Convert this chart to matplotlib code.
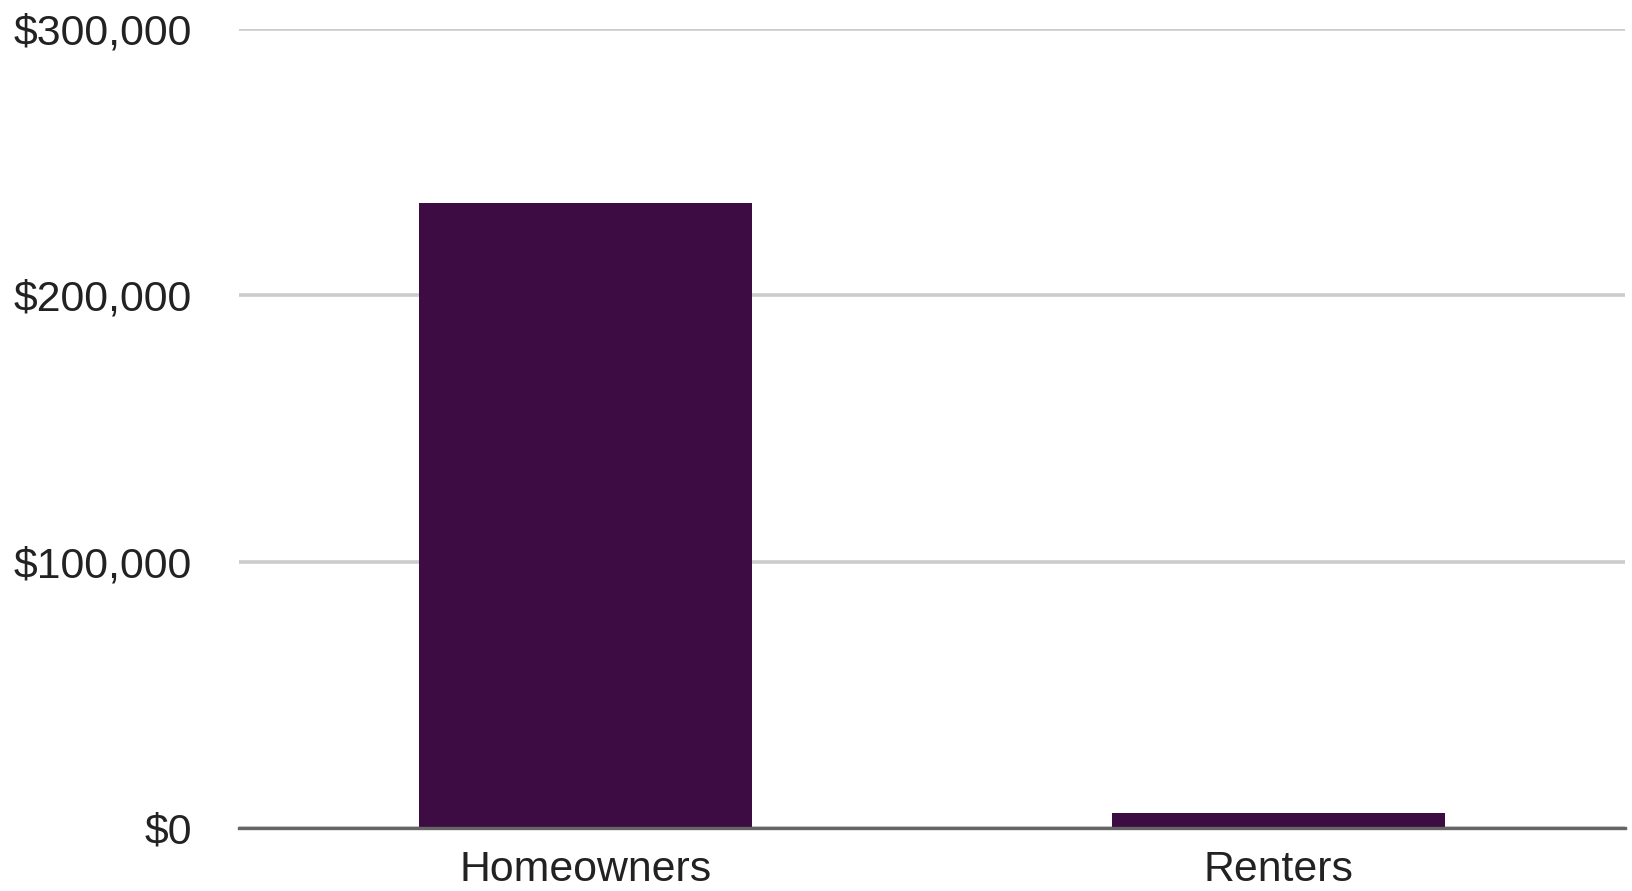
import matplotlib.pyplot as plt
from matplotlib.ticker import FuncFormatter

# Data
categories = ['Homeowners', 'Renters']
values = [234700, 5600]
y_ticks = [0, 100000, 200000, 300000]

plt.rcParams['font.family'] = ['Liberation Sans', 'DejaVu Sans']

fig = plt.figure(figsize=(16.33, 8.91), dpi=100)
ax = fig.add_axes([0.1465, 0.0707, 0.8485, 0.8968])

ax.bar(range(len(categories)), values, width=0.48, color='#3d0c43', zorder=3)

ax.set_xlim(-0.5, 1.5)
ax.set_ylim(0, 300000)
ax.set_xticks(range(len(categories)))
ax.set_xticklabels(categories)
ax.set_yticks(y_ticks)
ax.yaxis.set_major_formatter(FuncFormatter(lambda v, p: f'${v:,.0f}'))

ax.grid(axis='y', color='#cccccc', linewidth=2.6, zorder=0)
ax.tick_params(axis='both', length=0, labelsize=30.8, colors='#222222')
ax.tick_params(axis='y', pad=34)
ax.tick_params(axis='x', pad=16)

for s in ['top', 'right', 'left']:
    ax.spines[s].set_visible(False)
ax.spines['bottom'].set_color('#666666')
ax.spines['bottom'].set_linewidth(2.4)
ax.spines['bottom'].set_zorder(4)

fig.savefig('out.png', dpi=100)
